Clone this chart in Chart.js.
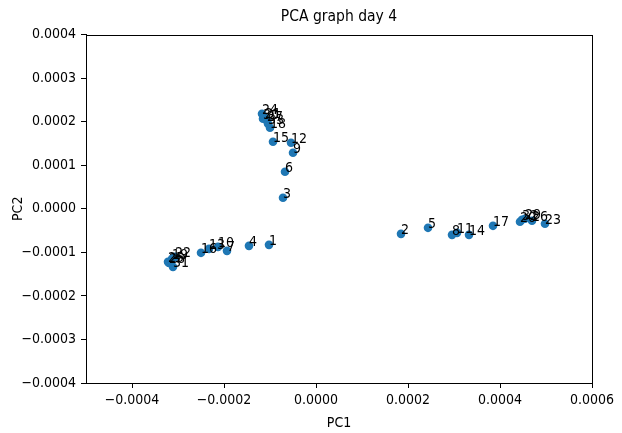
<!DOCTYPE html>
<html>
<head>
<meta charset="utf-8">
<script src="https://cdn.jsdelivr.net/npm/chart.js@4.4.0/dist/chart.umd.min.js"></script>
<style>
  html, body { margin: 0; padding: 0; background: #fff; }
</style>
</head>
<body>
<canvas id="pca" width="622" height="433"></canvas>
<script>
// sample numbers shown next to each point
const sampleLabels = ['1','2','3','4','5','6','7','8','9','10','11','12','13','14','15','16','17',
  '18','19','20','21','22','23','24','25','26','27','28','29','30','31','32','33'];

// first and second principal components
const pc1 = [-1.022e-4, 1.848e-4, -0.717e-4, -1.457e-4, 2.435e-4, -0.674e-4, -1.935e-4, 2.957e-4,
  -0.500e-4, -2.130e-4, 3.065e-4, -0.543e-4, -2.326e-4, 3.326e-4, -0.935e-4, -2.500e-4, 3.848e-4,
  -1.000e-4, -3.130e-4, 4.435e-4, -1.109e-4, -3.065e-4, 4.978e-4, -1.174e-4, -3.217e-4, 4.696e-4,
  -1.065e-4, -3.196e-4, 4.543e-4, -1.152e-4, -3.109e-4, 4.478e-4, -1.043e-4];
const pc2 = [-0.828e-4, -0.575e-4, 0.253e-4, -0.851e-4, -0.437e-4, 0.851e-4, -0.966e-4, -0.598e-4,
  1.287e-4, -0.874e-4, -0.552e-4, 1.517e-4, -0.920e-4, -0.598e-4, 1.540e-4, -1.011e-4, -0.391e-4,
  1.862e-4, -1.149e-4, -0.299e-4, 2.092e-4, -1.103e-4, -0.345e-4, 2.184e-4, -1.218e-4, -0.276e-4,
  2.023e-4, -1.241e-4, -0.230e-4, 2.069e-4, -1.333e-4, -0.253e-4, 1.954e-4];

const xTicks = [-0.0004, -0.0002, 0.0, 0.0002, 0.0004, 0.0006];
const yTicks = [-0.0004, -0.0003, -0.0002, -0.0001, 0.0, 0.0001, 0.0002, 0.0003, 0.0004];

const fontFamily = "'DejaVu Sans Condensed', 'DejaVu Sans', sans-serif";
Chart.defaults.font.family = fontFamily;
Chart.defaults.font.size = 14;
Chart.defaults.color = '#000';

function fmt(v) {
  if (Math.abs(v) < 1e-12) return '0.0000';
  return v.toFixed(4).replace('-', '\u2212');
}

var points = [];
for (let i = 0; i < pc1.length; i++) {
  points.push({ x: pc1[i], y: pc2[i] });
}

// box round the whole plot area, like matplotlib spines
const frame = {
  id: 'frame',
  afterDatasetsDraw(chart) {
    const a = chart.chartArea;
    const ctx = chart.ctx;
    ctx.save();
    ctx.strokeStyle = '#000';
    ctx.lineWidth = 1;
    ctx.strokeRect(Math.round(a.left) + 0.5, Math.round(a.top) + 0.5,
      Math.round(a.right - a.left), Math.round(a.bottom - a.top));
    ctx.restore();
  }
};

// number written at each point, left / baseline
const pointText = {
  id: 'pointText',
  afterDatasetsDraw(chart) {
    const ctx = chart.ctx;
    const meta = chart.getDatasetMeta(0);
    ctx.save();
    ctx.font = '14px ' + fontFamily;
    ctx.fillStyle = '#000';
    ctx.textAlign = 'left';
    ctx.textBaseline = 'alphabetic';
    meta.data.forEach((el, i) => {
      ctx.fillText(sampleLabels[i], el.x, el.y);
    });
    ctx.restore();
  }
};

new Chart(document.getElementById('pca'), {
  type: 'scatter',
  data: {
    datasets: [{
      data: points,
      backgroundColor: '#1f77b4',
      borderWidth: 0,
      pointRadius: 4.3,
      pointHoverRadius: 4.3
    }]
  },
  options: {
    responsive: false,
    animation: false,
    layout: { padding: { left: 0, right: 30, top: 0, bottom: 0 } },
    plugins: {
      legend: { display: false },
      tooltip: { enabled: false },
      title: {
        display: true,
        text: 'PCA graph day 4',
        fullSize: false,
        color: '#000',
        font: { size: 15.5, weight: 'normal' },
        padding: { top: 8, bottom: 8 }
      }
    },
    scales: {
      x: {
        type: 'linear',
        min: -0.0005,
        max: 0.0006,
        afterBuildTicks: s => { s.ticks = xTicks.map(v => ({ value: v })); },
        afterFit: s => { s.height = 50; },
        grid: { drawOnChartArea: false, tickLength: 5, color: '#000' },
        border: { color: '#000', width: 1 },
        ticks: { color: '#000', padding: 4, maxRotation: 0, autoSkip: false, callback: v => fmt(v) },
        title: { display: true, text: 'PC1', color: '#000', padding: { top: 0, bottom: 1 } }
      },
      y: {
        type: 'linear',
        min: -0.0004,
        max: 0.0004,
        afterBuildTicks: s => { s.ticks = yTicks.map(v => ({ value: v })); },
        afterFit: s => { s.width = 86; },
        grid: { drawOnChartArea: false, tickLength: 5, color: '#000' },
        border: { color: '#000', width: 1 },
        ticks: { color: '#000', padding: 5, autoSkip: false, callback: v => fmt(v) },
        title: { display: true, text: 'PC2', color: '#000', padding: { top: 10, bottom: 0 } }
      }
    }
  },
  plugins: [frame, pointText]
});
</script>
</body>
</html>
